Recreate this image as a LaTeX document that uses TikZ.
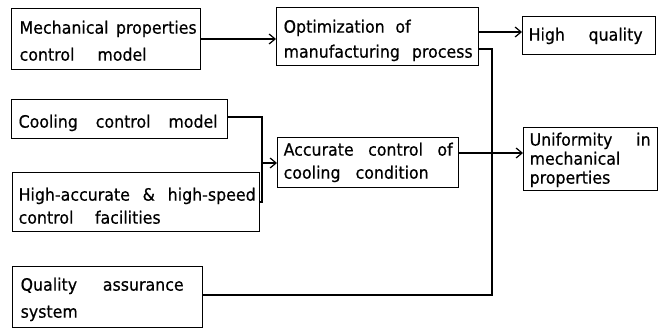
\documentclass[tikz,border=0pt]{standalone}
\usepackage{fontspec}
\setmainfont{DejaVu Sans}[FakeStretch=0.93,FakeBold=0.5]
\usetikzlibrary{arrows.meta}

% one line of text set in a box of a given width (words split by \hfill)
\newcommand{\spreadline}[2]{\hbox to #1pt{#2}}
% struts fixing the height of the first line and the depth of the last one
\newcommand{\topstrut}[1]{\rule{0pt}{#1pt}}
\newcommand{\botstrut}{\rule[-4pt]{0pt}{4pt}}

\begin{document}
\begin{tikzpicture}[x=1pt,y=-1pt,
  box/.style={draw, line width=1.3pt, anchor=north west, align=left,
    inner xsep=0pt, inner ysep=0pt,
    font=\fontsize{17}{27}\selectfont},
  link/.style={line width=1.3pt},
  arr/.style={link, -{Straight Barb[length=6pt,width=10pt,line width=1.2pt]}}]
  \useasboundingbox (0,0) rectangle (661,329);

  % boxes: left column
  \node[box, minimum width=189pt, minimum height=61pt, text width=189pt] (b1) at (11,8)
    {\hspace*{8pt}\topstrut{20}\spreadline{177}{Mechanical\hfill properties}\\
     \hspace*{8pt}\spreadline{127}{control\hfill model}\botstrut};
  \node[box, minimum width=216pt, minimum height=39pt, text width=216pt] (b4) at (11,99)
    {\hspace*{7pt}\topstrut{21}\spreadline{199}{Cooling\hfill control\hfill model}\botstrut};
  \node[box, minimum width=247pt, minimum height=59pt, text width=247pt,
        font=\fontsize{17}{23}\selectfont] (b5) at (12,172)
    {\hspace*{6pt}\topstrut{24}\spreadline{237}{High-accurate\hfill\&\hfill high-speed}\\
     \hspace*{6pt}\spreadline{142}{control\hfill facilities}\botstrut};
  \node[box, minimum width=190pt, minimum height=61pt, text width=190pt] (b8) at (12,266)
    {\hspace*{8pt}\topstrut{18}\spreadline{163}{Quality\hfill assurance}\\
     \hspace*{8pt}system\botstrut};

  % boxes: middle column
  \node[box, minimum width=202pt, minimum height=58pt, text width=202pt,
        font=\fontsize{17}{25}\selectfont] (b2) at (276,7)
    {\hspace*{7pt}\topstrut{21}\spreadline{127}{Optimization\hfill of}\\
     \hspace*{7pt}\spreadline{189}{manufacturing\hfill process}\botstrut};
  \node[box, minimum width=181pt, minimum height=50pt, text width=181pt,
        font=\fontsize{17}{23}\selectfont] (b6) at (277,137)
    {\hspace*{6pt}\topstrut{13}\spreadline{169}{Accurate\hfill control\hfill of}\\
     \hspace*{6pt}\spreadline{145}{cooling\hfill condition}\botstrut};

  % boxes: right column
  \node[box, minimum width=133pt, minimum height=38pt, text width=133pt] (b3) at (522,16)
    {\hspace*{6pt}\topstrut{14}\spreadline{114}{High\hfill quality}\botstrut};
  \node[box, minimum width=134pt, minimum height=63pt, text width=134pt,
        font=\fontsize{17}{19}\selectfont] (b7) at (523,127)
    {\hspace*{6pt}\topstrut{15}\spreadline{121}{Uniformity\hfill in}\\
     \hspace*{6pt}mechanical\\
     \hspace*{6pt}properties\botstrut};

  % junction lines
  \coordinate (jc) at (262,0);
  \coordinate (jq) at (492,0);

  % connectors
  \draw[arr] (b1.east |- 0,39) -- (b2.west |- 0,39);
  \draw[arr] (b2.east |- 0,32) -- (b3.west |- 0,32);
  \draw[link] (b4.east |- 0,117) -| (jc |- 0,202) -- (b5.east |- 0,202);
  \draw[arr] (jc |- 0,163) -- (b6.west |- 0,163);
  \draw[arr] (b6.east |- 0,153) -- (b7.west |- 0,153);
  \draw[link] (b2.east |- 0,49) -| (jq |- 0,295) -- (b8.east |- 0,295);
\end{tikzpicture}
\end{document}
